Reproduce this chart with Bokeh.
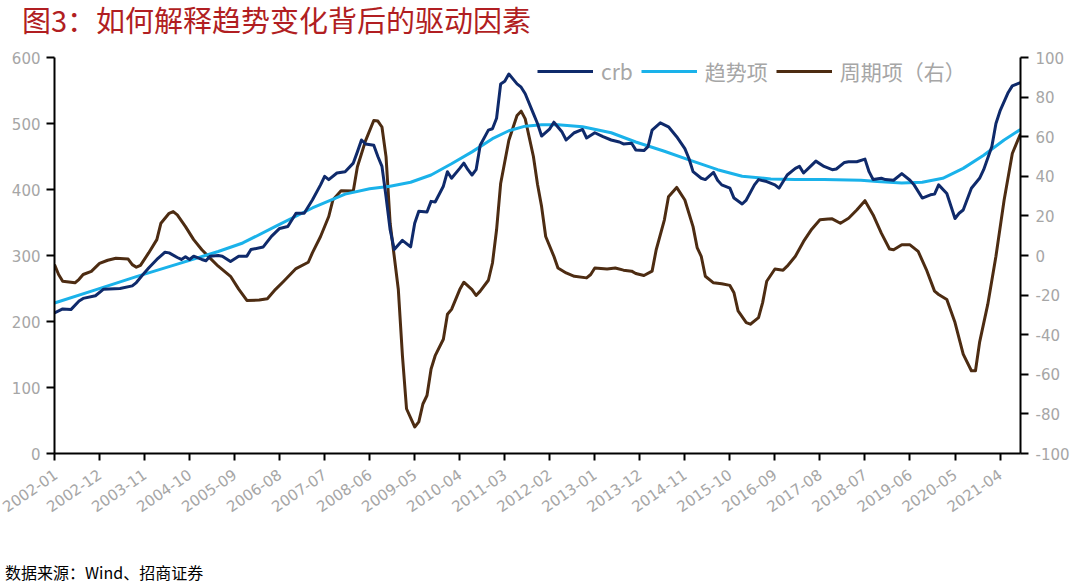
from bokeh.plotting import figure
from bokeh.models import (Range1d, LinearAxis, FixedTicker, Legend, LegendItem,
                          ColumnDataSource, PrintfTickFormatter, Div)
from bokeh.layouts import column
from bokeh.embed import file_html
from bokeh.resources import INLINE

# ---------------- data (month index: 0 = 2002-01) ----------------
tick_labels = ["2002-01", "2002-12", "2003-11", "2004-10", "2005-09", "2006-08",
               "2007-07", "2008-06", "2009-05", "2010-04", "2011-03", "2012-02",
               "2013-01", "2013-12", "2014-11", "2015-10", "2016-09", "2017-08",
               "2018-07", "2019-06", "2020-05", "2021-04"]
tick_months = [0, 11, 22, 33, 44, 55, 66, 77, 88, 99, 110, 121, 132, 143, 154,
               165, 176, 187, 198, 209, 220, 231]

crb_month = [0, 2, 4, 6, 7, 10, 12, 16, 19, 20, 22, 23, 25, 27, 28, 30, 31, 32, 33, 34,
             36, 37, 38, 40, 41, 43, 45, 47, 48, 51, 53, 55, 57, 59, 61, 63, 65, 66, 67, 69,
             71, 73, 74, 75, 76, 78, 79, 80, 81, 82, 83, 85, 87, 88, 89, 91, 92, 93, 95, 96,
             97, 99, 100, 101, 102, 103, 104, 106, 107, 108, 109, 110, 111, 113, 114, 115, 117, 118, 119, 121,
             122, 124, 125, 127, 129, 130, 132, 134, 136, 138, 139, 141, 142, 144, 145, 146, 148, 150, 152, 154,
             155, 156, 158, 159, 161, 162, 163, 165, 166, 168, 169, 171, 172, 174, 176, 177, 179, 181, 182, 183,
             185, 186, 188, 190, 191, 193, 194, 196, 198, 199, 200, 202, 203, 205, 207, 209, 210, 212, 214, 215,
             216, 218, 220, 221, 222, 224, 226, 227, 229, 230, 231, 233, 234, 236]
crb_value = [213, 219, 218, 231, 235, 239, 249, 250, 254, 259, 274, 281, 294, 305, 304, 297, 294, 298, 294, 299,
             294, 292, 299, 300, 299, 291, 299, 299, 309, 313, 329, 341, 344, 364, 364, 384, 407, 420, 415, 425,
             427, 440, 457, 475, 469, 467, 450, 435, 389, 339, 309, 323, 313, 349, 367, 366, 382, 381, 405, 427,
             417, 432, 440, 430, 422, 430, 467, 490, 492, 508, 560, 564, 575, 560, 555, 545, 515, 500, 481, 492,
             502, 487, 475, 486, 491, 478, 486, 480, 475, 472, 469, 470, 460, 459, 465, 490, 501, 495, 480, 462,
             447, 427, 417, 415, 426, 414, 407, 402, 387, 378, 384, 407, 415, 412, 407, 402, 422, 432, 435, 425,
             437, 443, 435, 430, 431, 441, 442, 442, 446, 427, 415, 417, 415, 414, 424, 414, 407, 387, 392, 393,
             407, 394, 356, 364, 369, 402, 417, 430, 465, 500, 519, 547, 557, 562]

trend_month = [0, 10, 20, 30, 40, 46, 54, 63, 71, 77, 82, 87, 92, 97, 102, 107, 111, 115, 119, 123,
               129, 136, 142, 149, 155, 162, 168, 175, 181, 188, 197, 201, 207, 212, 217, 222, 227, 232, 236]
trend_value = [228, 248, 268, 287, 306, 319, 344, 372, 393, 401, 405, 411, 422, 439, 457, 477, 489, 496, 498, 498,
               495, 486, 472, 458, 445, 430, 420, 416, 415, 415, 414, 412, 410, 411, 417, 432, 452, 475, 491]

cycle_month = [0, 1, 2, 5, 6, 7, 9, 11, 13, 15, 18, 19, 20, 21, 23, 25, 26, 28, 29, 30,
               32, 34, 36, 38, 40, 43, 45, 47, 50, 52, 54, 56, 59, 62, 63, 65, 67, 68, 70, 73,
               74, 76, 78, 79, 80, 81, 82, 84, 85, 86, 88, 89, 90, 91, 92, 93, 95, 96, 97, 99,
               100, 102, 103, 104, 106, 107, 108, 109, 111, 113, 114, 115, 117, 118, 119, 120, 122, 123, 125, 127,
               130, 131, 132, 135, 137, 139, 141, 142, 144, 146, 147, 149, 150, 152, 154, 156, 157, 158, 159, 161,
               163, 165, 166, 167, 169, 170, 172, 173, 174, 176, 178, 179, 181, 183, 185, 187, 189, 190, 192, 194,
               196, 198, 200, 202, 204, 205, 207, 209, 211, 213, 215, 216, 218, 220, 222, 224, 225, 226, 228, 230,
               232, 234, 236]
cycle_value = [-4.6, -9.6, -13, -13.8, -12, -9.6, -8, -4, -2.4, -1.4, -1.8, -4.6, -5.9, -5, 1.3, 8, 16.3, 21.3, 22.2, 20.5,
               14.6, 8, 2.9, -1.3, -5.4, -10.5, -17, -22.7, -22.5, -21.8, -17.1, -13, -6.6, -3.4, 1.3, 9.6, 19.7, 28, 32.7, 32.6,
               44.8, 58, 68.2, 67.9, 64.9, 49.8, 16.3, -17.2, -50.6, -77.4, -86.6, -84, -75, -70.7, -57.3, -50.6, -42.3, -29.7, -27.2, -17.2,
               -13.5, -17.2, -20.2, -18, -12.5, -3.8, 13, 36.4, 58.2, 70.7, 72.9, 69, 50, 36, 24.7, 9.6, -0.4, -6.3, -8.8, -10.5,
               -11.3, -9.6, -6.3, -6.8, -6.3, -7.4, -7.9, -9.1, -10.1, -7.9, 2.9, 18, 29.7, 34.4, 28, 14.6, 4, -0.4, -10.5, -13.8,
               -14.3, -15.1, -18.8, -28, -33.9, -34.7, -31.4, -23.8, -13, -6.8, -7.4, -5.4, -0.4, 7.1, 13.3, 18, 18.4, 18.5, 16.3, 18.8,
               23, 27.7, 20.5, 11.3, 3.3, 2.9, 5.4, 5.4, 2.1, -7.1, -18, -19.7, -22.2, -33.9, -49.8, -58.2, -58.2, -43.9, -24.7, -0.4,
               28, 51.5, 61.5]

series_names = ["crb", "趋势项", "周期项（右）"]
title_text = "图3：如何解释趋势变化背后的驱动因素"
source_text = "数据来源：Wind、招商证券"

# ---------------- styling ----------------
NAVY = "#0f2a6b"
CYAN = "#1ab2ea"
BROWN = "#4d2c12"
GRAY = "#a6a6a6"
TITLE_RED = "#b11e22"
CJK = "Noto Sans CJK SC"
NUM = "DejaVu Sans"

W = 1076
TITLE_H = 40
FIG_H = 522
FOOT_H = 20

p = figure(width=W, height=FIG_H, output_backend="svg", toolbar_location=None,
           x_range=Range1d(0, 236), y_range=Range1d(0, 600),
           min_border_left=54, min_border_right=W - 1020, min_border_top=17,
           min_border_bottom=FIG_H - 413)
p.extra_y_ranges = {"right": Range1d(-100, 100)}
p.outline_line_color = None
p.xgrid.visible = False
p.ygrid.visible = False
p.background_fill_color = "white"
p.border_fill_color = "white"

def style_axis(ax):
    ax.axis_line_color = "black"
    ax.axis_line_width = 2
    ax.major_tick_line_color = "black"
    ax.major_tick_line_width = 2
    ax.major_tick_out = 8
    ax.major_tick_in = 0
    ax.minor_tick_line_color = None
    ax.major_label_text_color = GRAY
    ax.major_label_text_font = NUM
    ax.major_label_text_font_size = "15px"

# left axis
la = p.yaxis[0]
la.ticker = FixedTicker(ticks=[0, 100, 200, 300, 400, 500, 600])
la.formatter = PrintfTickFormatter(format="%d")
style_axis(la)
la.major_label_standoff = 6

# right axis
ra = LinearAxis(y_range_name="right", ticker=FixedTicker(ticks=list(range(-100, 101, 20))),
                formatter=PrintfTickFormatter(format="%d"))
style_axis(ra)
ra.major_label_standoff = 7
p.add_layout(ra, "right")

# bottom axis
xa = p.xaxis[0]
xa.ticker = FixedTicker(ticks=tick_months)
xa.major_label_overrides = {m: lab for m, lab in zip(tick_months, tick_labels)}
style_axis(xa)
xa.major_tick_out = 7
xa.major_label_text_font_size = "15px"
xa.major_label_orientation = 0.6
xa.major_label_standoff = 12

src_crb = ColumnDataSource(dict(x=crb_month, y=crb_value))
src_tr = ColumnDataSource(dict(x=trend_month, y=trend_value))
src_cy = ColumnDataSource(dict(x=cycle_month, y=cycle_value))

r_cy = p.line("x", "y", source=src_cy, line_color=BROWN, line_width=3, y_range_name="right",
              line_join="round")
r_tr = p.line("x", "y", source=src_tr, line_color=CYAN, line_width=3, line_join="round")
r_crb = p.line("x", "y", source=src_crb, line_color=NAVY, line_width=3, line_join="round")

legend = Legend(items=[LegendItem(label=series_names[0], renderers=[r_crb]),
                       LegendItem(label=series_names[1], renderers=[r_tr]),
                       LegendItem(label=series_names[2], renderers=[r_cy])],
                location=(483, 367), orientation="horizontal",
                background_fill_alpha=0, border_line_alpha=0,
                label_text_color=GRAY, label_text_font=CJK, label_text_font_size="21px",
                glyph_width=56, glyph_height=20, spacing=8, padding=0, margin=0,
                label_standoff=8)
p.add_layout(legend)

title_div = Div(text=title_text, width=W, height=TITLE_H, margin=(0, 0, 0, 0),
                styles={"font-family": CJK, "font-size": "29px", "color": TITLE_RED,
                        "line-height": "38px", "padding-left": "22px", "white-space": "nowrap"})
foot_div = Div(text=source_text, width=W, height=FOOT_H, margin=(0, 0, 0, 0),
               styles={"font-family": CJK, "font-size": "16px", "color": "black",
                       "line-height": "20px", "padding-left": "5px", "white-space": "nowrap"})

layout = column(title_div, p, foot_div, spacing=0)
open("out.html", "w").write(file_html(layout, INLINE))
